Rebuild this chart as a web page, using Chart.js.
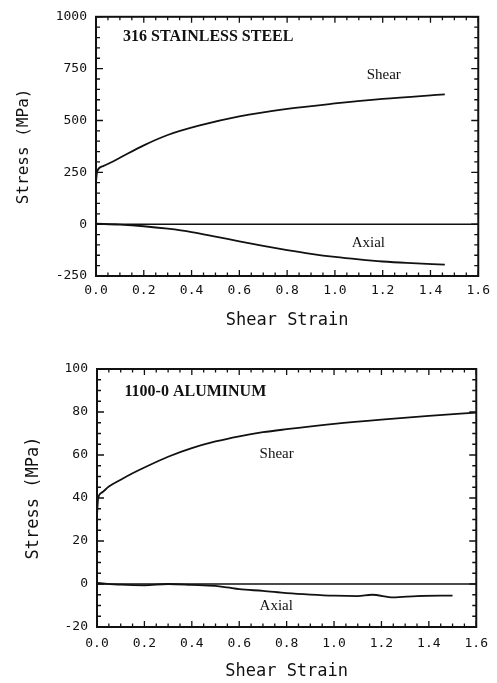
<!DOCTYPE html>
<html>
<head>
<meta charset="utf-8">
<script src="https://cdn.jsdelivr.net/npm/chart.js@4.4.0/dist/chart.umd.min.js"></script>
<style>
  body { margin: 0; background: #fff; }
  .box { position: absolute; left: 0; width: 497px; }
  #steelBox { top: 0; height: 340px; }
  #alBox { top: 340px; height: 343px; }
</style>
</head>
<body>
<div class="box" id="steelBox"><canvas id="steelChart"></canvas></div>
<div class="box" id="alBox"><canvas id="alChart"></canvas></div>
<script>
// 316 stainless steel (MPa vs shear strain)
const steelShearX = [0, 0.005, 0.03, 0.06, 0.1, 0.2, 0.3, 0.43, 0.6, 0.8, 1.0, 1.2, 1.46];
const steelShearY = [205, 255, 280, 296, 320, 380, 430, 475, 520, 556, 582, 604, 626];
const steelAxialX = [0, 0.1, 0.2, 0.3, 0.4, 0.5, 0.6, 0.7, 0.8, 0.9, 1.0, 1.1, 1.2, 1.3, 1.46];
const steelAxialY = [2, -2, -10, -22, -38, -60, -83, -105, -125, -143, -158, -170, -180, -187, -195];

// 1100-O aluminum
const alShearX = [0, 0.005, 0.02, 0.05, 0.1, 0.15, 0.2, 0.3, 0.4, 0.5, 0.6, 0.7, 0.8, 1.0, 1.2, 1.4, 1.6];
const alShearY = [32, 40, 42.5, 45.3, 48.5, 51.5, 54.2, 59.2, 63.2, 66.3, 68.7, 70.6, 72.0, 74.5, 76.5, 78.2, 79.7];
const alAxialX = [0, 0.1, 0.2, 0.3, 0.4, 0.5, 0.55, 0.6, 0.7, 0.8, 0.9, 1.0, 1.1, 1.16, 1.25, 1.35, 1.5];
const alAxialY = [0.5, -0.3, -0.6, 0, -0.4, -0.9, -1.6, -2.4, -3.2, -4.2, -4.9, -5.4, -5.6, -5.0, -6.2, -5.6, -5.4];

const zeroX = [0, 1.6];
const zeroY = [0, 0];

const ink = "#111";

function pts(xs, ys) {
  return xs.map((x, i) => ({ x: x, y: ys[i] }));
}

function curve(xs, ys, width) {
  return {
    data: pts(xs, ys),
    showLine: true,
    borderColor: ink,
    borderWidth: width,
    pointRadius: 0,
    cubicInterpolationMode: "monotone"
  };
}

// frame, inward ticks on all four sides, and text notes
const frameTicks = {
  id: "frameTicks",
  afterDraw(chart, args, opts) {
    const { ctx, chartArea: a, scales: { x, y } } = chart;
    ctx.save();
    ctx.strokeStyle = ink;
    ctx.lineWidth = 1.3;
    ctx.beginPath();
    const nx = Math.round((x.max - x.min) / opts.xMinor);
    for (let i = 0; i <= nx; i++) {
      const v = x.min + i * opts.xMinor;
      const px = x.getPixelForValue(v);
      const len = i % opts.xEvery === 0 ? 6 : 3.5;
      ctx.moveTo(px, a.bottom); ctx.lineTo(px, a.bottom - len);
      ctx.moveTo(px, a.top); ctx.lineTo(px, a.top + len);
    }
    const ny = Math.round((y.max - y.min) / opts.yMinor);
    for (let i = 0; i <= ny; i++) {
      const v = y.min + i * opts.yMinor;
      const py = y.getPixelForValue(v);
      const len = i % opts.yEvery === 0 ? 7 : 4;
      ctx.moveTo(a.left, py); ctx.lineTo(a.left + len, py);
      ctx.moveTo(a.right, py); ctx.lineTo(a.right - len, py);
    }
    ctx.stroke();
    ctx.lineWidth = 2;
    ctx.strokeRect(a.left, a.top, a.right - a.left, a.bottom - a.top);

    ctx.fillStyle = ink;
    ctx.textBaseline = "middle";
    ctx.textAlign = "left";
    opts.notes.forEach(n => {
      ctx.font = n.font;
      ctx.fillText(n.text, x.getPixelForValue(n.x), y.getPixelForValue(n.y));
    });
    ctx.restore();
  }
};

function makeChart(id, cfg) {
  return new Chart(document.getElementById(id), {
    type: "scatter",
    data: { datasets: cfg.datasets },
    plugins: [frameTicks],
    options: {
      responsive: true,
      maintainAspectRatio: false,
      animation: false,
      layout: { padding: { top: cfg.top, right: cfg.right, left: 0, bottom: 0 } },
      plugins: {
        legend: { display: false },
        tooltip: { enabled: false },
        frameTicks: cfg.frame
      },
      scales: {
        x: {
          type: "linear",
          min: 0,
          max: 1.6,
          grid: { display: false, drawTicks: false },
          border: { display: false },
          afterFit: s => { s.height = cfg.xHeight; },
          ticks: {
            stepSize: 0.2,
            padding: cfg.xPad,
            color: ink,
            maxRotation: 0,
            font: { family: "DejaVu Sans Mono", size: 13 },
            callback: v => v.toFixed(1)
          },
          title: {
            display: true,
            text: "Shear Strain",
            color: ink,
            font: { family: "DejaVu Sans Mono", size: 17 },
            padding: { top: 0, bottom: cfg.xTitlePad }
          }
        },
        y: {
          type: "linear",
          min: cfg.yMin,
          max: cfg.yMax,
          grid: { display: false, drawTicks: false },
          border: { display: false },
          afterFit: s => { s.width = cfg.yWidth; },
          ticks: {
            stepSize: cfg.yStep,
            padding: 9,
            color: ink,
            font: { family: "DejaVu Sans Mono", size: 13 },
            callback: v => String(v)
          },
          title: {
            display: true,
            text: "Stress (MPa)",
            color: ink,
            font: { family: "DejaVu Sans Mono", size: cfg.yTitleSize },
            padding: { top: cfg.yTitlePad, bottom: 0 }
          }
        }
      }
    }
  });
}

makeChart("steelChart", {
  datasets: [
    curve(steelShearX, steelShearY, 1.8),
    curve(steelAxialX, steelAxialY, 1.8),
    curve(zeroX, zeroY, 1.5)
  ],
  top: 14, right: 17, xHeight: 64, yWidth: 96,
  yMin: -250, yMax: 1000, yStep: 250,
  xPad: 7, xTitlePad: 9, yTitleSize: 16, yTitlePad: 14,
  frame: {
    xMinor: 0.05, xEvery: 4, yMinor: 50, yEvery: 5,
    notes: [
      { text: "316 STAINLESS STEEL", x: 0.113, y: 902, font: "bold 16px 'Liberation Serif'" },
      { text: "Shear", x: 1.133, y: 720, font: "15px 'Liberation Serif'" },
      { text: "Axial", x: 1.07, y: -91, font: "15px 'Liberation Serif'" }
    ]
  }
});

makeChart("alChart", {
  datasets: [
    curve(alShearX, alShearY, 1.8),
    curve(alAxialX, alAxialY, 1.8),
    curve(zeroX, zeroY, 1.5)
  ],
  top: 29, right: 13, xHeight: 56, yWidth: 97,
  yMin: -20, yMax: 100, yStep: 20,
  xPad: 9, xTitlePad: 1, yTitleSize: 17, yTitlePad: 23,
  frame: {
    xMinor: 0.05, xEvery: 4, yMinor: 5, yEvery: 4,
    notes: [
      { text: "1100-0 ALUMINUM", x: 0.116, y: 89.5, font: "bold 16px 'Liberation Serif'" },
      { text: "Shear", x: 0.686, y: 60.5, font: "15px 'Liberation Serif'" },
      { text: "Axial", x: 0.686, y: -10.2, font: "15px 'Liberation Serif'" }
    ]
  }
});
</script>
</body>
</html>
